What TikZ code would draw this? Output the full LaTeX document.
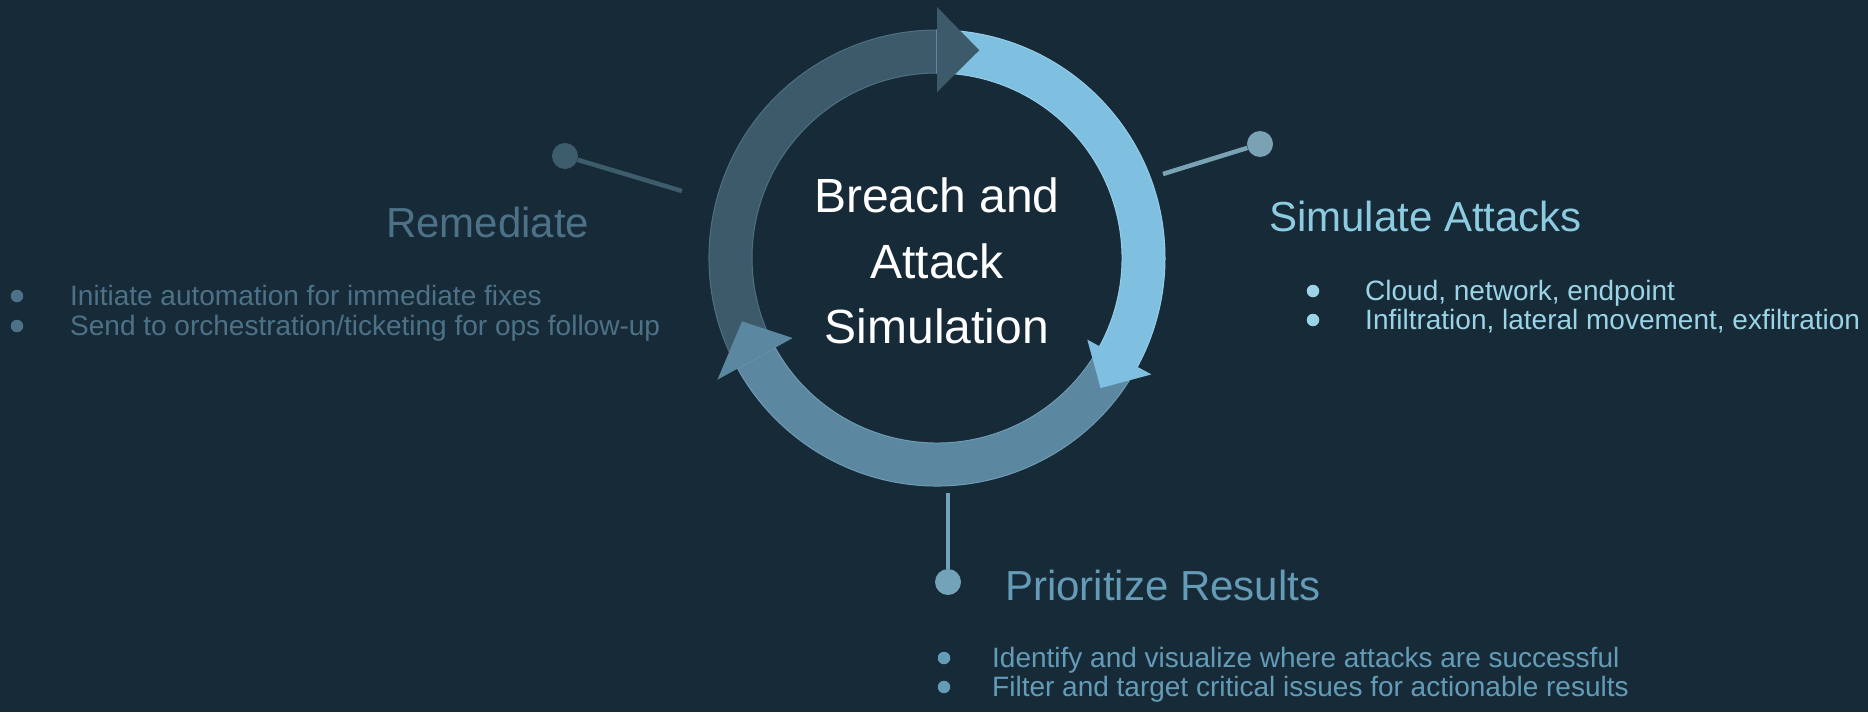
\documentclass[tikz,border=0pt]{standalone}
\usepackage{fontspec}
\setmainfont{Liberation Sans}
\definecolor{bg}{RGB}{23,42,55}
\definecolor{darkseg}{RGB}{61,90,107}
\definecolor{darkedge}{RGB}{78,112,130}
\definecolor{lightseg}{RGB}{127,191,224}
\definecolor{lightedge}{RGB}{150,205,232}
\definecolor{midseg}{RGB}{91,136,160}
\definecolor{midedge}{RGB}{110,156,180}
\definecolor{remtext}{RGB}{77,114,135}
\definecolor{simtext}{RGB}{140,203,224}
\definecolor{simbul}{RGB}{155,212,230}
\definecolor{pritext}{RGB}{100,156,184}
\definecolor{remline}{RGB}{61,92,108}
\definecolor{simline}{RGB}{121,163,180}
\definecolor{priline}{RGB}{114,163,184}
\tikzset{
  pindot/.style={circle, minimum size=26pt, inner sep=0pt, draw=none},
  pinline/.style={line width=4.5pt},
  titletext/.style={font=\fontsize{42}{50}\selectfont, anchor=base west, inner sep=0pt},
  bultext/.style={font=\fontsize{28}{33}\selectfont, anchor=base west, inner sep=0pt},
  buldot/.style={circle, minimum size=12.5pt, inner sep=0pt, draw=none},
  centertext/.style={font=\fontsize{48}{66}\selectfont, anchor=base, inner sep=0pt, text=white},
}
\begin{document}
\begin{tikzpicture}[x=1pt,y=-1pt]
\fill[bg] (0,0) rectangle (1868,712);
\useasboundingbox (0,0) rectangle (1868,712);

% ring
\begin{scope}[shift={(937,258)},y=1pt]
  \def\Ro{228}\def\Ri{185}
  % dark arc 209 -> 90
  \filldraw[fill=darkseg, draw=darkedge, line width=1pt]
    (209:\Ro) arc[start angle=209, end angle=90, radius=\Ro] -- (90:\Ri)
    arc[start angle=90, end angle=209, radius=\Ri] -- cycle;
  % light arc 90 -> -29
  \filldraw[fill=lightseg, draw=lightedge, line width=1pt]
    (90:\Ro) arc[start angle=90, end angle=-29, radius=\Ro] -- (-29:\Ri)
    arc[start angle=-29, end angle=90, radius=\Ri] -- cycle;
  % mid arc -29 -> -151
  \filldraw[fill=midseg, draw=midedge, line width=1pt]
    (-29:\Ro) arc[start angle=-29, end angle=-151, radius=\Ro] -- (-151:\Ri)
    arc[start angle=-151, end angle=-29, radius=\Ri] -- cycle;
  % arrowheads
  \fill[darkseg] (90:251) -- (78.5:212) -- (90:166) -- cycle;
  \fill[lightseg] (-28.5:244) -- (-38.5:209) -- (-28.5:171) -- cycle;
  \fill[midseg] (-151:251) -- (-162:205) -- (-151:165) -- cycle;
\end{scope}

% centre text
\node[centertext] (c1) at (937,212) {Breach and};
\node[centertext] (c2) at (937,278) {Attack};
\node[centertext] (c3) at (937,343) {Simulation};

% Remediate
\node[pindot, fill=remline] (rdot) at (565,156) {};
\coordinate (rend) at (682,191);
\draw[pinline, remline] (rdot) -- (rend);
\node[titletext, text=remtext] (rtitle) at (386,237) {Remediate};
\node[buldot, fill=remtext] (rb1) at (17,296) {};
\node[bultext, text=remtext] (rt1) at (70,305) {Initiate automation for immediate fixes};
\node[buldot, fill=remtext] (rb2) at (17,326) {};
\node[bultext, text=remtext] (rt2) at (70,335) {Send to orchestration/ticketing for ops follow-up};

% Simulate Attacks
\node[pindot, fill=simline] (sdot) at (1260,144) {};
\coordinate (send) at (1163,174);
\draw[pinline, simline] (sdot) -- (send);
\node[titletext, text=simtext] (stitle) at (1269,231) {Simulate Attacks};
\node[buldot, fill=simbul] (sb1) at (1313,291) {};
\node[bultext, text=simbul] (st1) at (1365,300) {Cloud, network, endpoint};
\node[buldot, fill=simbul] (sb2) at (1313,320) {};
\node[bultext, text=simbul] (st2) at (1365,329) {Infiltration, lateral movement, exfiltration};

% Prioritize Results
\node[pindot, fill=priline] (pdot) at (948,582) {};
\coordinate (pend) at (948,493);
\draw[pinline, priline] (pdot) -- (pend);
\node[titletext, text=pritext] (ptitle) at (1005,600) {Prioritize Results};
\node[buldot, fill=pritext] (pb1) at (944,658) {};
\node[bultext, text=pritext] (pt1) at (992,667) {Identify and visualize where attacks are successful};
\node[buldot, fill=pritext] (pb2) at (944,687) {};
\node[bultext, text=pritext] (pt2) at (992,696) {Filter and target critical issues for actionable results};
\end{tikzpicture}
\end{document}
